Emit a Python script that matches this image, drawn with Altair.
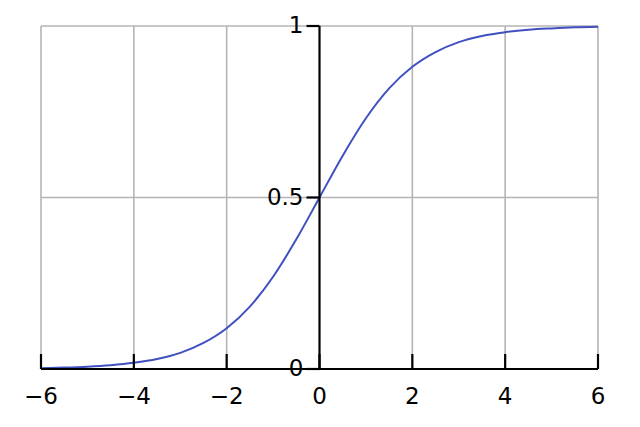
import altair as alt
import pandas as pd

# curve values
xs = [-6, -5.5, -5, -4.5, -4, -3.5, -3, -2.5, -2, -1.5, -1, -0.5, 0,
      0.5, 1, 1.5, 2, 2.5, 3, 3.5, 4, 4.5, 5, 5.5, 6]
ys = [0.0025, 0.0041, 0.0067, 0.011, 0.018, 0.029, 0.047, 0.076, 0.119, 0.182,
      0.269, 0.378, 0.5, 0.622, 0.731, 0.818, 0.881, 0.924, 0.953, 0.971,
      0.982, 0.989, 0.993, 0.996, 0.9975]

x_ticks = [-6, -4, -2, 0, 2, 4, 6]
x_tick_labels = ["\u22126", "\u22124", "\u22122", "0", "2", "4", "6"]
x_grid = [-6, -4, -2, 2, 4, 6]
y_ticks = [0, 0.5, 1]
y_tick_labels = ["0", "0.5", "1"]
y_grid = [0.5, 1]

FONT = "DejaVu Sans"
GRID = "#b4b4b4"

curve = pd.DataFrame({"x": xs, "y": ys})
xt = pd.DataFrame({"x": x_ticks, "label": x_tick_labels})
yt = pd.DataFrame({"y": y_ticks, "label": y_tick_labels})
xg = pd.DataFrame({"x": x_grid})
yg = pd.DataFrame({"y": y_grid})

xs_scale = alt.Scale(domain=[-6, 6], nice=False, zero=False)
ys_scale = alt.Scale(domain=[0, 1], nice=False, zero=False)

X = lambda f: alt.X(f, type="quantitative", scale=xs_scale, axis=None)
Y = lambda f: alt.Y(f, type="quantitative", scale=ys_scale, axis=None)

vgrid = alt.Chart(xg).transform_calculate(y0="0", y1="1").mark_rule(
    color=GRID, strokeWidth=1.6).encode(x=X("x"), y=Y("y0"), y2="y1:Q")
hgrid = alt.Chart(yg).transform_calculate(x0="-6", x1="6").mark_rule(
    color=GRID, strokeWidth=1.6).encode(y=Y("y"), x=X("x0"), x2="x1:Q")
line = alt.Chart(curve).mark_line(color="#4050c0", strokeWidth=2,
                                  interpolate="monotone").encode(x=X("x"), y=Y("y"))
xaxis = alt.Chart(yt).transform_filter("datum.y == 0").transform_calculate(
    x0="-6", x1="6").mark_rule(color="black", strokeWidth=2.2).encode(
    y=Y("y"), x=X("x0"), x2="x1:Q")
yaxis = alt.Chart(xt).transform_filter("datum.x == 0").transform_calculate(
    y0="0", y1="1").mark_rule(color="black", strokeWidth=2.2).encode(
    x=X("x"), y=Y("y0"), y2="y1:Q")
xticks = alt.Chart(xt).transform_calculate(y0="0").mark_rule(
    color="black", strokeWidth=2.2, y2Offset=-15).encode(x=X("x"), y=Y("y0"), y2="y0:Q")
yticks = alt.Chart(yt).transform_calculate(x0="0").mark_rule(
    color="black", strokeWidth=2.2, x2Offset=-13).encode(y=Y("y"), x=X("x0"), x2="x0:Q")
xlabels = alt.Chart(xt).transform_calculate(y0="0").mark_text(
    font=FONT, fontSize=23, dy=28, align="center", baseline="middle",
    color="black").encode(x=X("x"), y=Y("y0"), text="label:N")
ylabels = alt.Chart(yt).transform_calculate(x0="0").mark_text(
    font=FONT, fontSize=23, dx=-16, align="right", baseline="middle",
    color="black").encode(y=Y("y"), x=X("x0"), text="label:N")

chart = alt.layer(vgrid, hgrid, line, xaxis, yaxis, xticks, yticks, xlabels, ylabels).properties(
    width=557, height=343,
    autosize=alt.AutoSizeParams(type="none"),
    padding={"left": 33, "top": 18, "right": 34, "bottom": 50},
    background="white",
).configure_view(stroke=None)

chart.save("out.html", embed_options={"renderer": "svg", "actions": False})
